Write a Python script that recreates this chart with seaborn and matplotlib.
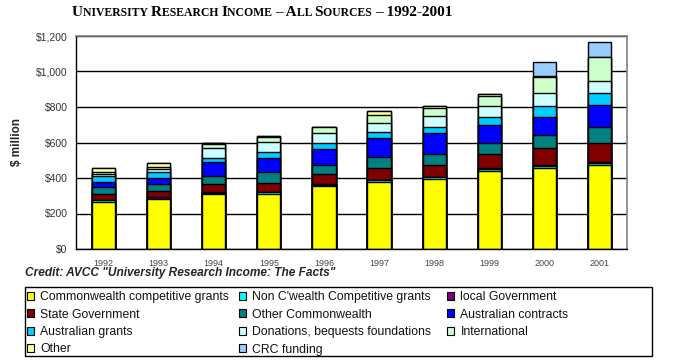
import numpy as np
import pandas as pd
import matplotlib
matplotlib.use("Agg")
import matplotlib.pyplot as plt
import seaborn as sns
from matplotlib.patches import Patch, Rectangle
from matplotlib.offsetbox import TextArea, HPacker, AnchoredOffsetbox

# %% dados ($ million)
years = ["1992", "1993", "1994", "1995", "1996", "1997", "1998", "1999", "2000", "2001"]

commonwealth_competitive = [265, 281, 310, 310, 355, 375, 394, 439, 454, 473]
non_cwealth_competitive = [9, 2, 3, 9, 3, 12, 9, 12, 13, 13]
local_government = [2, 10, 10, 2, 10, 3, 1, 5, 6, 5]
state_government = [34, 34, 43, 51, 52, 64, 69, 79, 96, 106]
other_commonwealth = [37, 37, 43, 59, 51, 62, 60, 62, 73, 90]
australian_contracts = [30, 34, 81, 79, 95, 107, 120, 101, 103, 124]
australian_grants = [32, 33, 20, 36, 34, 36, 37, 45, 60, 67]
donations = [12, 17, 59, 56, 53, 52, 57, 60, 73, 68]
international = [11, 14, 20, 28, 32, 43, 45, 60, 90, 135]
other = [24, 22, 8, 6, 5, 21, 13, 8, 8, 0]
crc_funding = [0, 0, 0, 0, 0, 0, 0, 0, 79, 86]

series_names = ["Commonwealth competitive grants", "Non C'wealth Competitive grants",
                "local Government", "State Government", "Other Commonwealth",
                "Australian contracts", "Australian grants",
                "Donations, bequests foundations", "International", "Other",
                "CRC funding"]
series_values = [commonwealth_competitive, non_cwealth_competitive, local_government,
                 state_government, other_commonwealth, australian_contracts,
                 australian_grants, donations, international, other, crc_funding]
series_colors = ["#FFFF00", "#00FFFF", "#800080", "#800000", "#008080", "#0000FF",
                 "#00CCFF", "#CCFFFF", "#CCFFCC", "#FFFF99", "#99CCFF"]

# %% tabela acumulada
df = pd.DataFrame(dict(zip(series_names, series_values)), index=years)
cum_df = df.cumsum(axis=1)

# %% figura
sns.set_style("white")
plt.rcParams['font.family'] = ['Liberation Sans', 'DejaVu Sans']

W, H = 673, 364
fig = plt.figure(figsize=(W / 100, H / 100), dpi=100)
ax = fig.add_axes([76 / W, 1 - 249 / H, (627 - 76) / W, (249 - 36) / H])

# barras empilhadas: desenha do total para baixo
for name, color in reversed(list(zip(series_names, series_colors))):
    sns.barplot(x=years, y=cum_df[name].values, color=color, saturation=1,
                edgecolor="black", linewidth=1, width=0.42, errorbar=None, ax=ax)

ax.set_xlim(-0.5, len(years) - 0.5)
ax.set_ylim(0, 1200)
ax.set_yticks(range(0, 1201, 200))
ax.set_yticklabels([f"${v:,}" for v in range(0, 1201, 200)])
ax.yaxis.grid(True, color="black", linewidth=1)
ax.set_axisbelow(True)

ax.set_xticks(range(len(years)))
ax.set_xticklabels(years)
ax.set_xticks(np.arange(-0.5, len(years)), minor=True)
ax.tick_params(axis="x", which="major", length=0, labelsize=6.5, labelcolor="#444444", pad=7)
ax.tick_params(axis="x", which="minor", length=4, color="black", direction="out")
ax.tick_params(axis="y", length=4, color="black", direction="out", labelsize=7.5,
               labelcolor="#333333", pad=2)

for side in ["left", "bottom"]:
    ax.spines[side].set_color("black")
    ax.spines[side].set_linewidth(1)
for side in ["top", "right"]:
    ax.spines[side].set_color("#808080")
    ax.spines[side].set_linewidth(1.2)

ax.set_xlabel("")
ax.set_ylabel("$ million", fontsize=8.5, fontweight="bold")
ax.yaxis.set_label_coords(-0.096, 0.5)

# %% título em versalete
title_parts = [("U", 11), ("NIVERSITY ", 8.5), ("R", 11), ("ESEARCH ", 8.5),
               ("I", 11), ("NCOME ", 8.5), ("– A", 11), ("LL ", 8.5),
               ("S", 11), ("OURCES ", 8.5), ("– 1992-2001", 11)]
boxes = [TextArea(t, textprops=dict(family="Liberation Serif", fontweight="bold",
                                     fontsize=s, color="black"))
         for t, s in title_parts]
title_pack = HPacker(children=boxes, pad=0, sep=0, align="baseline")
title_box = AnchoredOffsetbox(loc="center left", child=title_pack, pad=0, borderpad=0,
                              frameon=False, bbox_to_anchor=(72 / W, 1 - 12 / H),
                              bbox_transform=fig.transFigure)
fig.add_artist(title_box)

# %% crédito
fig.text(25 / W, 1 - 273 / H, 'Credit: AVCC "University Research Income: The Facts"',
         fontsize=8.6, fontweight="bold", fontstyle="italic", va="center", ha="left")

# %% legenda (3 colunas, caixa própria)
fig.add_artist(Rectangle((25 / W, 1 - 356 / H), (652 - 25) / W, (356 - 287) / H,
                         transform=fig.transFigure, fill=False, edgecolor="black",
                         linewidth=1))

handles = [Patch(facecolor=c, edgecolor="black", linewidth=0.8) for c in series_colors]
columns = [[0, 3, 6, 9], [1, 4, 7, 10], [2, 5, 8]]
col_x = [27, 239, 447]
for idx, x0 in zip(columns, col_x):
    leg = fig.legend([handles[i] for i in idx], [series_names[i] for i in idx],
                     loc="upper left", bbox_to_anchor=(x0 / W, 1 - 291 / H),
                     frameon=False, fontsize=8.8, handlelength=0.6, handleheight=0.6,
                     handletextpad=0.5, labelspacing=0.45, borderpad=0,
                     borderaxespad=0)
    for t in leg.get_texts():
        t.set_color("#111111")

fig.savefig("out.png", dpi=100)
